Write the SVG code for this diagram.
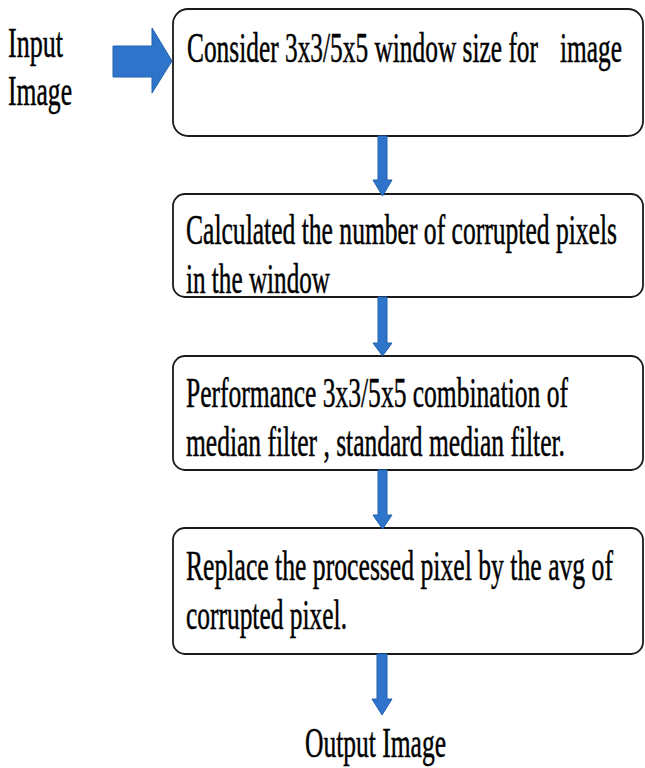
<svg xmlns="http://www.w3.org/2000/svg" width="645" height="768" viewBox="0 0 645 768">
<style>
.box{fill:#ffffff;stroke:#1a1a1a;stroke-width:1.8}
.t{font-family:'Liberation Serif','Times New Roman',serif;font-size:43px;fill:#000;stroke:#000;stroke-width:0.5}
.arr{fill:#2E74CA;stroke:#2260AE;stroke-width:1}
</style>
<rect width="645" height="768" fill="#ffffff"/>
<g id="input-label">
<text class="t" x="8" y="57" textLength="55" lengthAdjust="spacingAndGlyphs">Input</text>
<text class="t" x="8" y="105" textLength="64" lengthAdjust="spacingAndGlyphs">Image</text>
</g>
<g id="box1">
<rect class="box" x="173" y="9" width="470" height="127" rx="15"/>
<text class="t" x="187" y="62" textLength="351" lengthAdjust="spacingAndGlyphs">Consider 3x3/5x5 window size for</text>
<text class="t" x="560" y="62" textLength="62" lengthAdjust="spacingAndGlyphs">image</text>
</g>
<g id="box2">
<rect class="box" x="173" y="194" width="470" height="103" rx="12"/>
<text class="t" x="186" y="244" textLength="431" lengthAdjust="spacingAndGlyphs">Calculated the number of corrupted pixels</text>
<text class="t" x="186" y="293" textLength="144" lengthAdjust="spacingAndGlyphs">in the window</text>
</g>
<g id="box3">
<rect class="box" x="173" y="356" width="470" height="114" rx="12"/>
<text class="t" x="186" y="407" textLength="382" lengthAdjust="spacingAndGlyphs">Performance 3x3/5x5 combination of</text>
<text class="t" x="186" y="456" textLength="379" lengthAdjust="spacingAndGlyphs">median filter , standard median filter.</text>
</g>
<g id="box4">
<rect class="box" x="173" y="528" width="470" height="126" rx="12"/>
<text class="t" x="186" y="580" textLength="427" lengthAdjust="spacingAndGlyphs">Replace the processed pixel by the avg of</text>
<text class="t" x="186" y="629" textLength="161" lengthAdjust="spacingAndGlyphs">corrupted pixel.</text>
</g>
<g id="output-label">
<text class="t" x="305" y="757" textLength="141" lengthAdjust="spacingAndGlyphs">Output Image</text>
</g>
<g id="connectors">
<polygon class="arr" points="113,46 152,46 152,28 172,61 152,93 152,77 113,77"/>
<polygon class="arr" points="378,136 387,136 387,180 392,180 382.5,196 373,180 378,180"/>
<polygon class="arr" points="378,297 387,297 387,343 392,343 382.5,356 373,343 378,343"/>
<polygon class="arr" points="378,470 387,470 387,515 392,515 382.5,529 373,515 378,515"/>
<polygon class="arr" points="377,654 387,654 387,699 392,699 382,715 372,699 377,699"/>
</g>
</svg>
